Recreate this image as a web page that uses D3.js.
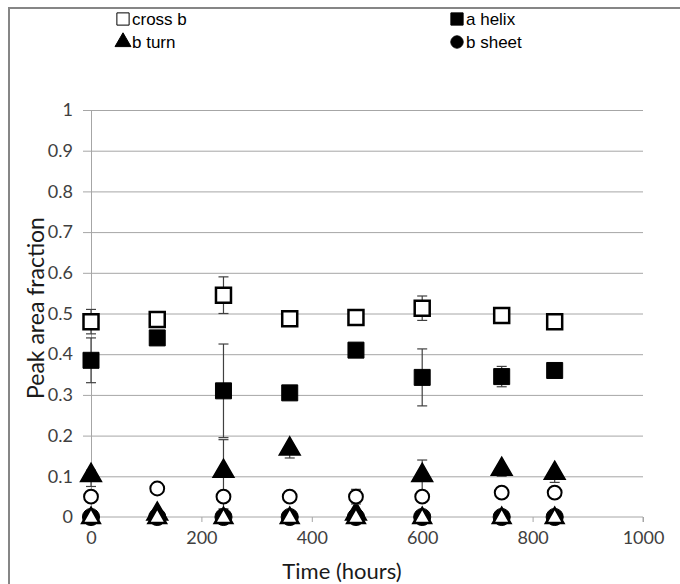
<!DOCTYPE html>
<html><head><meta charset="utf-8">
<script src="https://cdn.jsdelivr.net/npm/d3@7"></script>
<style>body{margin:0;background:#fff}svg{display:block}</style>
</head><body>
<svg id="c" width="680" height="584"></svg>
<script>
const times = [0, 120, 240, 360, 480, 600, 744, 840];
const crossB = [0.48, 0.485, 0.545, 0.487, 0.49, 0.513, 0.495, 0.48];
const crossBErr = [0.03, 0, 0.045, 0, 0, 0.03, 0, 0];
const aHelix = [0.385, 0.44, 0.31, 0.305, 0.41, 0.343, 0.345, 0.36];
const aHelixErr = [0.055, 0, 0.115, 0, 0, 0.07, 0.025, 0];
const bTurn = [0.095, 0, 0.105, 0.16, 0, 0.095, 0.11, 0.1];
const bTurnErr = [0.02, 0, 0.085, 0.015, 0, 0.045, 0.01, 0.015];
const openCircle = [0.05, 0.07, 0.05, 0.05, 0.05, 0.05, 0.06, 0.06];
const openCircleErr = [0, 0, 0, 0, 0.018, 0, 0, 0];
const bSheet = [0, 0, 0, 0, 0, 0, 0, 0];
const openTriangle = [0, 0, 0, 0, 0, 0, 0, 0];
const yTicks = [0, 0.1, 0.2, 0.3, 0.4, 0.5, 0.6, 0.7, 0.8, 0.9, 1];
const xTicks = [0, 200, 400, 600, 800, 1000];
const legendLabels = ["cross b", "a helix", "b turn", "b sheet"];

const svg = d3.select("#c");
const x = d3.scaleLinear().domain([0, 1000]).range([91, 643]);
const y = d3.scaleLinear().domain([0, 1]).range([517, 110]);
const FONT = "Lato, 'Open Sans', sans-serif";

// outer border
svg.append("rect").attr("x", 9).attr("y", 8).attr("width", 700).attr("height", 600)
  .attr("fill", "none").attr("stroke", "#868686").attr("stroke-width", 2);

// y axis with gridlines
const yAxis = d3.axisLeft(y).tickValues(yTicks).tickSize(8).tickPadding(10)
  .tickFormat(d => d3.format("~g")(d));
const gy = svg.append("g").attr("transform", "translate(91,0)").call(yAxis);
gy.select(".domain").attr("stroke", "#a6a6a6");
gy.selectAll(".tick line").attr("stroke", "#a6a6a6");
gy.selectAll(".tick").filter(d => d > 0).append("line")
  .attr("x1", 0).attr("x2", x(1000) - 91).attr("stroke", "#a6a6a6");
gy.selectAll("text").attr("font-family", FONT).attr("font-size", 18).attr("fill", "#404040");

// x axis
const xAxis = d3.axisBottom(x).tickValues(xTicks).tickSize(5).tickPadding(9)
  .tickFormat(d3.format("d"));
const gx = svg.append("g").attr("transform", "translate(0,517)").call(xAxis);
gx.select(".domain").attr("stroke", "#a6a6a6").attr("d", `M${x(0)},0H${x(1000)}V5`);
gx.selectAll(".tick line").attr("stroke", "#a6a6a6").filter(d => d === 0).remove();
gx.selectAll("text").attr("font-family", FONT).attr("font-size", 18).attr("fill", "#404040");

// titles
svg.append("text").attr("x", 342).attr("y", 579).attr("text-anchor", "middle")
  .attr("font-family", FONT).attr("font-size", 22).attr("fill", "#1a1a1a")
  .text("Time (hours)");
svg.append("text").attr("transform", `translate(44,308) rotate(-90)`)
  .attr("text-anchor", "middle")
  .attr("font-family", FONT).attr("font-size", 23).attr("fill", "#1a1a1a")
  .text("Peak area fraction");

// error bars
function errBars(vals, errs) {
  const g = svg.append("g").attr("stroke", "#404040").attr("stroke-width", 1.2);
  times.forEach((t, i) => {
    if (!errs[i]) return;
    const cx = x(t), y1 = y(vals[i] + errs[i]), y2 = y(Math.max(0, vals[i] - errs[i]));
    g.append("line").attr("x1", cx).attr("x2", cx).attr("y1", y1).attr("y2", y2);
    g.append("line").attr("x1", cx - 5).attr("x2", cx + 5).attr("y1", y1).attr("y2", y1);
    g.append("line").attr("x1", cx - 5).attr("x2", cx + 5).attr("y1", y2).attr("y2", y2);
  });
}
const sym = (type, size) => d3.symbol().type(type).size(size)();
function markers(vals, type, size, fill, stroke, sw, dy) {
  svg.append("g").selectAll("path").data(times).join("path")
    .attr("transform", (t, i) => `translate(${x(t)},${y(vals[i]) + (dy || 0)})`)
    .attr("d", sym(type, size)).attr("fill", fill).attr("stroke", stroke).attr("stroke-width", sw);
}
errBars(bTurn, bTurnErr);
markers(bTurn, d3.symbolTriangle, 190, "#000", "#000", 1.5, -3);
markers(bSheet, d3.symbolCircle, 230, "#000", "#000", 1);
markers(openTriangle, d3.symbolTriangle, 130, "#fff", "#000", 2.5, 1);
errBars(openCircle, openCircleErr);
markers(openCircle, d3.symbolCircle, 150, "#fff", "#000", 2);
errBars(aHelix, aHelixErr);
markers(aHelix, d3.symbolSquare, 256, "#000", "#000", 1);
errBars(crossB, crossBErr);
markers(crossB, d3.symbolSquare, 225, "#fff", "#000", 2.5);

// legend
const legX = [116, 450], legY = [19, 42];
const legTypes = [
  {t: d3.symbolSquare, s: 150, f: "#fff"},
  {t: d3.symbolSquare, s: 150, f: "#000"},
  {t: d3.symbolTriangle, s: 110, f: "#000"},
  {t: d3.symbolCircle, s: 120, f: "#000"}
];
const lg = svg.append("g").selectAll("g").data(legendLabels).join("g")
  .attr("transform", (d, i) => `translate(${legX[i % 2]},${legY[Math.floor(i / 2)]})`);
lg.append("path").attr("transform", "translate(7,0)")
  .attr("d", (d, i) => sym(legTypes[i].t, legTypes[i].s))
  .attr("fill", (d, i) => legTypes[i].f).attr("stroke", "#000").attr("stroke-width", 1);
lg.append("text").attr("x", 16).attr("y", 6)
  .attr("font-family", "'Liberation Sans', Arial, sans-serif").attr("font-size", 17).attr("fill", "#000")
  .text(d => d);
</script>
</body></html>
